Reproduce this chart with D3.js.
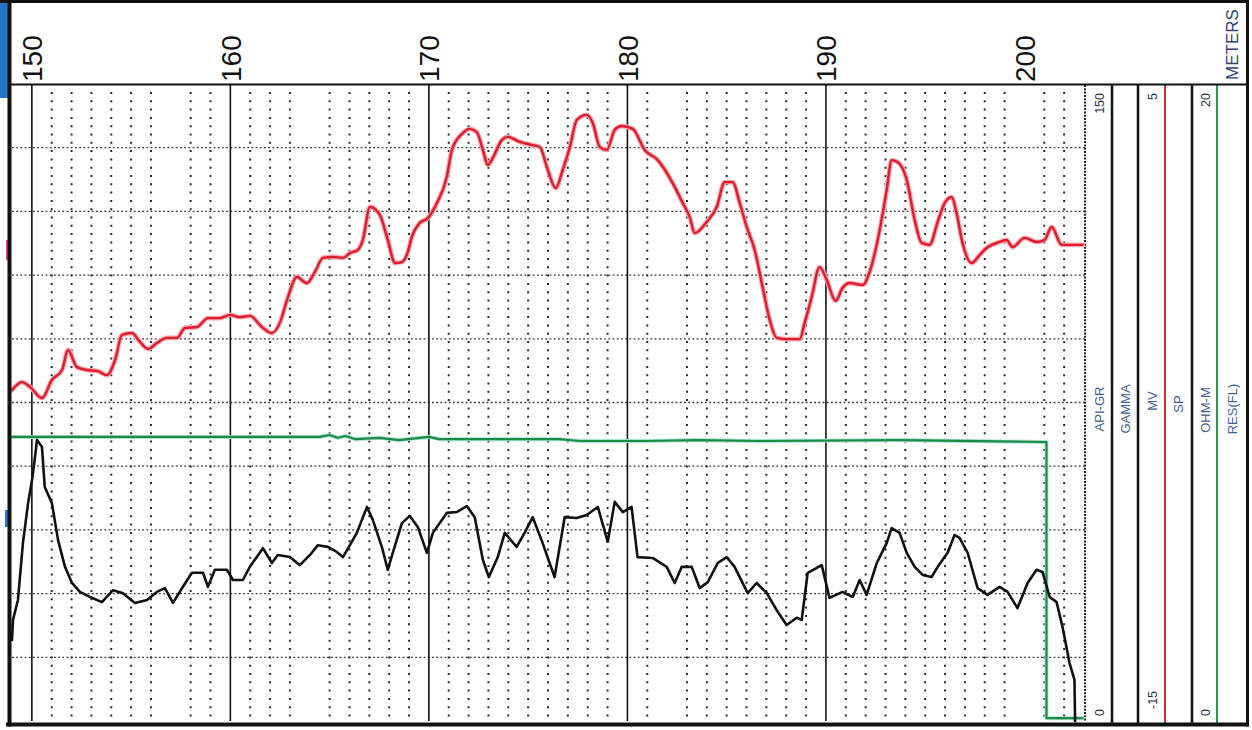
<html>
<head>
	<meta charset="UTF-8">
	<script src="https://cdn.jsdelivr.net/npm/d3@7"></script>
	<style>
		body { margin: 0; background: #fff; }
		svg { display: block; font-family: "Liberation Sans", Arial, sans-serif; }

		line.vdot { stroke: #2a2a2a; stroke-width: 2; stroke-dasharray: 2 6.3; }
		line.hdot { stroke: #333; stroke-width: 1.3; stroke-dasharray: 1.8 2.4; }
		line.major { stroke: #111; stroke-width: 1.6; }
		line.frame { stroke: #111; }

		path.curve { fill: none; stroke-linejoin: round; stroke-linecap: round; }
		.sp-halo { stroke: #f6a7b0; stroke-width: 4.8; }
		.sp { stroke: #e01b2b; stroke-width: 2.4; }
		.gr { stroke: #111; stroke-width: 2.6; }
		.res-halo { stroke: #a8e4d2; stroke-width: 4; }
		.res { stroke: #1e8a45; stroke-width: 2.1; }

		.depth-label { font-size: 28px; fill: #111; }
		.num { font-size: 12.5px; fill: #1c2c48; }
		.trk { font-size: 13px; fill: #3d5f8f; }
		.units { font-size: 17px; fill: #2b4470; }
	</style>
</head>
<body>

<div id="log"></div>

<script type="text/javascript">
// depth axis (meters)
var depthDomain = [149, 203];
var depthTicks = [150, 160, 170, 180, 190, 200];
var majorLines = [150, 160, 170, 180, 190];
var missingGrid = [157, 164, 182, 200];   // no dotted line there on the print

// track scales
var grRange = [0, 150];     // API-GR
var spRange = [-15, 5];     // MV
var resRange = [0, 20];     // OHM-M
var trackNames = ["API-GR", "GAMMA", "MV", "SP", "OHM-M", "RES(FL)"];
var unitName = "METERS";

// SP curve [depth, mV]
var spCurve = [
	[149.00,-4.61],[149.50,-4.36],[149.91,-4.51],[150.51,-4.86],[151.01,-4.29],[151.52,-3.98],
	[151.82,-3.35],[152.27,-3.89],[152.78,-3.98],[153.28,-4.01],[153.78,-4.14],[154.19,-3.67],
	[154.54,-2.88],[155.04,-2.82],[155.45,-3.10],[155.85,-3.32],[156.30,-3.13],[156.80,-2.97],
	[157.31,-2.97],[157.71,-2.66],[158.32,-2.63],[158.87,-2.35],[159.47,-2.35],[159.98,-2.25],
	[160.48,-2.32],[160.98,-2.28],[161.59,-2.63],[162.09,-2.82],[162.49,-2.50],[162.90,-1.69],
	[163.35,-1.06],[163.85,-1.25],[164.26,-0.90],[164.66,-0.46],[165.16,-0.43],[165.67,-0.46],
	[166.02,-0.31],[166.42,-0.21],[166.67,0.10],[167.03,1.14],[167.53,0.89],[167.93,0.10],
	[168.29,-0.62],[168.64,-0.59],[168.94,-0.27],[169.14,0.20],[169.54,0.64],[169.95,0.79],
	[170.40,1.26],[170.90,2.08],[171.16,2.93],[171.71,3.46],[172.06,3.59],[172.41,3.49],
	[172.72,2.93],[172.97,2.46],[173.22,2.68],[173.67,3.24],[173.97,3.34],[174.58,3.18],
	[175.23,3.08],[175.59,3.02],[175.99,2.30],[176.39,1.73],[176.74,2.30],[177.10,3.02],
	[177.45,3.87],[177.95,4.03],[178.25,3.78],[178.61,3.02],[178.96,2.93],[179.36,3.56],
	[179.72,3.68],[180.27,3.59],[180.87,2.93],[181.53,2.61],[182.28,1.89],[182.79,1.26],
	[183.14,0.82],[183.39,0.32],[183.99,0.67],[184.50,1.14],[184.90,1.92],[185.30,1.92],
	[185.66,1.26],[186.01,0.51],[186.41,-0.21],[186.81,-1.37],[187.17,-2.41],[187.52,-2.97],
	[188.02,-3.01],[188.68,-3.01],[188.93,-2.50],[189.28,-1.69],[189.68,-0.75],[190.04,-1.15],
	[190.49,-1.81],[190.84,-1.40],[191.20,-1.25],[191.85,-1.31],[192.20,-0.90],[192.71,0.42],
	[193.06,1.67],[193.31,2.61],[193.61,2.55],[194.07,1.99],[194.47,0.73],[194.82,0.01],
	[195.22,-0.05],[195.63,0.67],[195.98,1.26],[196.33,1.45],[196.58,0.95],[196.88,0.01],
	[197.34,-0.62],[197.74,-0.37],[198.09,-0.15],[198.75,0.04],[199.10,0.10],[199.40,-0.12],
	[200.01,0.17],[200.61,0.04],[201.01,0.10],[201.37,0.51],[201.87,-0.05],[202.93,-0.05]
];

// gamma curve [depth, API]
var grCurve = [
	[149.00,19.1],[149.05,23.8],[149.30,28.5],[149.55,41.9],[149.81,51.3],[150.01,56.8],
	[150.16,62.2],[150.26,66.2],[150.51,64.5],[150.65,55.1],[151.01,51.3],[151.32,42.6],
	[151.67,36.3],[152.02,32.5],[152.42,30.4],[152.93,29.2],[153.53,28.0],[154.09,30.8],
	[154.59,30.1],[155.19,27.8],[155.80,28.5],[156.30,30.4],[156.70,31.3],[157.11,27.8],
	[157.61,31.6],[158.06,34.9],[158.62,34.9],[158.87,31.6],[159.22,35.6],[159.83,35.6],
	[160.13,33.2],[160.63,33.2],[160.98,36.3],[161.64,40.7],[162.09,37.2],[162.39,39.1],
	[163.00,38.6],[163.50,36.7],[164.01,39.1],[164.41,41.4],[164.91,41.0],[165.36,39.8],
	[165.67,38.6],[166.02,41.4],[166.37,44.3],[166.88,50.4],[167.18,47.3],[167.63,41.0],
	[167.93,35.6],[168.18,39.6],[168.64,46.6],[169.04,48.3],[169.44,45.7],[169.90,39.6],
	[170.20,44.3],[170.90,49.0],[171.40,49.2],[171.91,50.6],[172.31,48.0],[172.72,37.9],
	[173.02,33.9],[173.47,38.6],[173.82,44.3],[174.42,41.0],[174.82,44.3],[175.23,48.0],
	[175.73,41.9],[176.33,33.9],[176.84,48.0],[177.44,47.8],[177.95,48.5],[178.51,50.4],
	[179.01,42.2],[179.36,51.6],[179.77,49.2],[180.21,50.4],[180.51,38.6],[181.27,38.4],
	[181.98,36.3],[182.38,32.5],[182.74,36.3],[183.24,36.3],[183.64,31.3],[184.05,32.7],
	[184.55,37.2],[185.00,38.6],[185.40,36.3],[186.06,30.1],[186.51,32.5],[187.02,30.1],
	[187.52,26.1],[188.02,22.6],[188.53,24.3],[188.78,23.8],[189.08,34.9],[189.79,36.7],
	[190.18,29.0],[190.84,30.4],[191.35,29.2],[191.70,33.2],[192.05,29.7],[192.56,37.2],
	[193.06,41.9],[193.31,45.4],[193.71,44.3],[194.07,39.6],[194.47,36.3],[194.87,34.4],
	[195.32,33.9],[195.63,36.3],[196.13,39.6],[196.48,43.8],[196.73,43.1],[197.14,39.6],
	[197.64,31.3],[198.14,29.7],[198.75,31.6],[199.15,30.4],[199.65,26.6],[200.16,32.5],
	[200.61,35.6],[200.91,35.1],[201.27,29.2],[201.62,28.0],[201.92,22.1],[202.27,13.7],
	[202.52,9.7],[202.55,0.0]
];

// resistivity curve [depth, ohm-m]
var resCurve = [
	[149.0,8.92],[164.5,8.92],[165.0,8.98],[165.4,8.89],[165.8,8.95],[166.3,8.85],
	[167.5,8.89],[168.5,8.82],[170.0,8.92],[170.5,8.85],[176.6,8.85],[177.6,8.79],
	[180.9,8.79],[183.6,8.82],[186.6,8.79],[193.7,8.82],[201.0,8.76],[201.11,8.76],
	[201.11,0.09],[202.93,0.09]
];

(function(d3) {
	var W = 1252, H = 730;
	var top = 84, bottom = 721;

	var svg = d3.select("#log").append("svg")
		.attr("width", W).attr("height", H);

	var x = d3.scaleLinear().domain(depthDomain).range([12, 1084]);
	var yGR = d3.scaleLinear().domain(grRange).range([bottom, top]);
	var ySP = d3.scaleLinear().domain(spRange).range([bottom, top]);
	var yRES = d3.scaleLinear().domain(resRange).range([bottom, top]);

	// scan artefacts on the left edge
	svg.append("rect").attr("x", 0).attr("y", 0).attr("width", 8).attr("height", 98).attr("fill", "#2274c9");
	svg.append("rect").attr("x", 6).attr("y", 240).attr("width", 4).attr("height", 20).attr("fill", "#d9507a");
	svg.append("rect").attr("x", 5).attr("y", 510).attr("width", 4).attr("height", 17).attr("fill", "#2a78c8");

	// dotted grid, every meter
	var meters = d3.range(150, 203).filter(function(d) {
		return d % 10 != 0 && missingGrid.indexOf(d) < 0;
	});
	svg.selectAll("line.vdot")
		.data(meters).enter()
		.append("line")
		.attr("class", "vdot")
		.attr("x1", function(d) { return x(d); })
		.attr("x2", function(d) { return x(d); })
		.attr("y1", top + 8)
		.attr("y2", bottom);

	var hLines = d3.range(15, 150, 15);
	svg.selectAll("line.hdot")
		.data(hLines).enter()
		.append("line")
		.attr("class", "hdot")
		.attr("x1", 12).attr("x2", 1085)
		.attr("y1", function(d) { return yGR(d); })
		.attr("y2", function(d) { return yGR(d); });

	svg.selectAll("line.major")
		.data(majorLines).enter()
		.append("line")
		.attr("class", "major")
		.attr("x1", function(d) { return x(d); })
		.attr("x2", function(d) { return x(d); })
		.attr("y1", top + 1)
		.attr("y2", bottom);

	// right edge of the depth grid
	svg.append("line")
		.attr("x1", 1085).attr("x2", 1085).attr("y1", top + 1).attr("y2", bottom + 1)
		.attr("stroke", "#222").attr("stroke-width", 2).attr("stroke-dasharray", "2 1.3");

	// curves
	var spLine = d3.line()
		.x(function(d) { return x(d[0]); })
		.y(function(d) { return ySP(d[1]); })
		.curve(d3.curveMonotoneX);
	var grLine = d3.line()
		.x(function(d) { return x(d[0]); })
		.y(function(d) { return yGR(d[1]); });
	var resLine = d3.line()
		.x(function(d) { return x(d[0]); })
		.y(function(d) { return yRES(d[1]); });

	svg.append("path").attr("class", "curve res-halo").attr("d", resLine(resCurve));
	svg.append("path").attr("class", "curve res").attr("d", resLine(resCurve));
	svg.append("path").attr("class", "curve sp-halo").attr("d", spLine(spCurve));
	svg.append("path").attr("class", "curve sp").attr("d", spLine(spCurve));
	svg.append("path").attr("class", "curve gr").attr("d", grLine(grCurve));

	// header depth labels
	var axis = svg.append("g")
		.attr("transform", "translate(0,82)")
		.call(d3.axisBottom(x).tickValues(depthTicks).tickSize(0).tickFormat(d3.format("d")))
		.attr("font-size", null)
		.attr("font-family", null);
	axis.select(".domain").remove();
	axis.selectAll("text")
		.attr("class", "depth-label")
		.attr("fill", null)
		.attr("transform", "rotate(-90)")
		.attr("x", 0).attr("y", 10).attr("dy", 0)
		.attr("text-anchor", "start");

	// legend columns
	var blackCols = [1112, 1138, 1192];
	svg.selectAll("line.col")
		.data(blackCols).enter()
		.append("line")
		.attr("class", "frame col")
		.attr("x1", function(d) { return d; })
		.attr("x2", function(d) { return d; })
		.attr("y1", top).attr("y2", bottom + 2)
		.attr("stroke-width", 2.5);
	svg.append("line").attr("x1", 1165).attr("x2", 1165).attr("y1", top + 1).attr("y2", bottom + 2)
		.attr("stroke", "#e8283a").attr("stroke-width", 2);
	svg.append("line").attr("x1", 1217).attr("x2", 1217).attr("y1", top + 1).attr("y2", bottom + 2)
		.attr("stroke", "#229a4c").attr("stroke-width", 2);

	function vtext(cls, t, cx, cy, anchor) {
		svg.append("text")
			.attr("class", cls)
			.attr("transform", "translate(" + cx + "," + cy + ") rotate(-90)")
			.attr("text-anchor", anchor)
			.text(t);
	}

	// scale ends
	vtext("num", grRange[1], 1104, 93, "end");
	vtext("num", grRange[0], 1104, 716, "start");
	vtext("num", spRange[1], 1157, 93, "end");
	vtext("num", spRange[0], 1157, 709, "start");
	vtext("num", resRange[1], 1210, 93, "end");
	vtext("num", resRange[0], 1210, 716, "start");

	// track names
	var nameX = [1104, 1130, 1157, 1183, 1210, 1237];
	var nameY = [409, 409, 401, 404, 410, 409];
	trackNames.forEach(function(n, i) {
		vtext("trk", n, nameX[i], nameY[i], "middle");
	});

	vtext("units", unitName, 1238, 80, "start");

	// frame
	svg.append("line").attr("class", "frame").attr("x1", 0).attr("x2", 1249).attr("y1", 1.5).attr("y2", 1.5).attr("stroke-width", 3);
	svg.append("line").attr("class", "frame").attr("x1", 8).attr("x2", 1249).attr("y1", top + 0.5).attr("y2", top + 0.5).attr("stroke-width", 2);
	svg.append("line").attr("class", "frame").attr("x1", 6).attr("x2", 1249).attr("y1", 724.5).attr("y2", 724.5).attr("stroke-width", 4);
	svg.append("line").attr("class", "frame").attr("x1", 9.5).attr("x2", 9.5).attr("y1", 0).attr("y2", 726.5).attr("stroke-width", 4);
	svg.append("line").attr("class", "frame").attr("x1", 1247.5).attr("x2", 1247.5).attr("y1", 0).attr("y2", 726.5).attr("stroke-width", 3);

})(window.d3);
</script>
</body>
</html>
